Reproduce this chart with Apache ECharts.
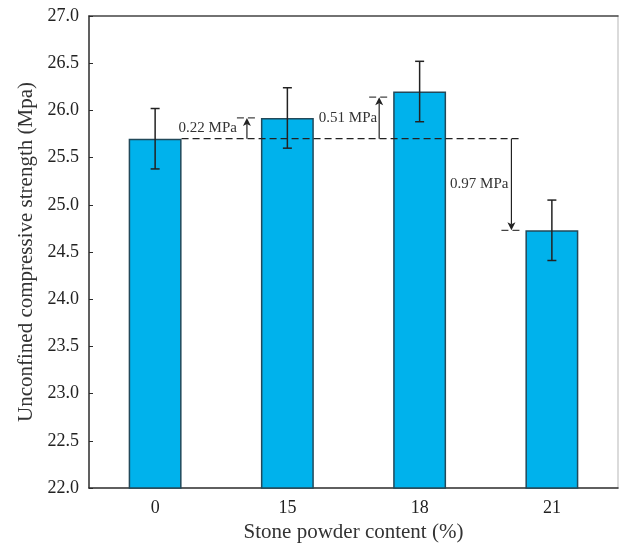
<!DOCTYPE html>
<html>
<head>
<meta charset="utf-8">
<script src="https://cdn.jsdelivr.net/npm/echarts@6/dist/echarts.min.js"></script>
<style>
  html, body { margin: 0; padding: 0; background: #fff; }
  #chart { width: 619px; height: 548px; }
</style>
</head>
<body>
<div id="chart"></div>
<script>
// Stone powder content vs unconfined compressive strength
const categories = ['0', '15', '18', '21'];
const strength = [25.70, 25.92, 26.20, 24.73];
const errors = [0.32, 0.32, 0.32, 0.32];

// difference annotations, measured against the 0% bar
const baseline = 25.70;
const annoTargets = [1, 2, 3];
const annoEnds = [25.92, 26.14, 24.73];
const annoLabels = ['0.22 MPa', '0.51 MPa', '0.97 MPa'];

const FONT = 'Liberation Serif';
const chart = echarts.init(document.getElementById('chart'));

function barHalf(api) {
    return api.size([1, 0])[0] * 0.4 / 2;
}

function arrowX(api, idx) {
    return api.coord([idx, 0])[0] - barHalf(api) - 14;
}

const labelGap = [10, 2, 3];

const option = {
    animation: false,
    grid: { left: 89, right: 1, top: 16, bottom: 60 },
    xAxis: [{
        type: 'category',
        data: categories,
        axisLine: { lineStyle: { color: '#2b2b2b', width: 1.5 } },
        axisTick: { inside: true, length: 5, lineStyle: { color: '#2b2b2b' } },
        axisLabel: { color: '#222', fontFamily: FONT, fontSize: 18, margin: 11 },
        name: 'Stone powder content (%)',
        nameLocation: 'middle',
        nameGap: 30,
        nameTextStyle: { color: '#333', fontFamily: FONT, fontSize: 21 }
    }, {
        type: 'category',
        position: 'top',
        data: categories,
        axisLine: { lineStyle: { color: '#444', width: 1.5 } },
        axisTick: { show: false },
        axisLabel: { show: false }
    }],
    yAxis: [{
        type: 'value',
        min: 22,
        max: 27,
        interval: 0.5,
        axisLine: { show: true, lineStyle: { color: '#2b2b2b', width: 1.5 } },
        axisTick: { show: true, inside: true, length: 4, lineStyle: { color: '#2b2b2b' } },
        splitLine: { show: false },
        axisLabel: {
            color: '#222', fontFamily: FONT, fontSize: 18, margin: 10,
            formatter: v => v.toFixed(1)
        },
        name: 'Unconfined compressive strength (Mpa)',
        nameLocation: 'middle',
        nameGap: 50,
        nameTextStyle: { color: '#333', fontFamily: FONT, fontSize: 21, padding: [0, 0, 0, 0] }
    }, {
        type: 'value',
        position: 'right',
        min: 22,
        max: 27,
        axisLine: { show: true, lineStyle: { color: '#cfcfcf', width: 1.5 } },
        axisTick: { show: false },
        axisLabel: { show: false },
        splitLine: { show: false }
    }],
    series: [
        {
            type: 'bar',
            data: strength,
            barWidth: '40%',
            itemStyle: { color: '#00b2ec', borderColor: '#22495a', borderWidth: 1.5 }
        },
        {
            // error bars
            type: 'custom',
            data: strength.map((v, i) => [i, v - errors[i], v + errors[i]]),
            z: 5,
            renderItem: function (params, api) {
                const lo = api.coord([api.value(0), api.value(1)]);
                const hi = api.coord([api.value(0), api.value(2)]);
                const cap = 4.5;
                const style = { stroke: '#222', lineWidth: 1.5 };
                return {
                    type: 'group',
                    children: [
                        { type: 'line', shape: { x1: lo[0], y1: lo[1], x2: hi[0], y2: hi[1] }, style },
                        { type: 'line', shape: { x1: lo[0] - cap, y1: lo[1], x2: lo[0] + cap, y2: lo[1] }, style },
                        { type: 'line', shape: { x1: hi[0] - cap, y1: hi[1], x2: hi[0] + cap, y2: hi[1] }, style }
                    ]
                };
            }
        },
        {
            // long dashed reference line at the 0% value
            type: 'custom',
            data: [[0, annoTargets[annoTargets.length - 1], baseline]],
            z: 4,
            renderItem: function (params, api) {
                const start = api.coord([api.value(0), api.value(2)]);
                const x1 = start[0] + barHalf(api);
                const x2 = arrowX(api, api.value(1)) + 10;
                return {
                    type: 'line',
                    shape: { x1: x1, y1: start[1], x2: x2, y2: start[1] },
                    style: { stroke: '#222', lineWidth: 1.2, lineDash: [7, 4] }
                };
            }
        },
        {
            // difference arrows and labels
            type: 'custom',
            data: annoTargets.map((t, i) => [t, baseline, annoEnds[i]]),
            z: 4,
            renderItem: function (params, api) {
                const i = params.dataIndex;
                const t = api.value(0);
                const x = arrowX(api, t);
                const y0 = api.coord([t, api.value(1)])[1];
                const y1 = api.coord([t, api.value(2)])[1];
                const dir = y1 < y0 ? 1 : -1; // 1: arrow points up
                const head = [
                    [x, y1],
                    [x - 4, y1 + dir * 8],
                    [x, y1 + dir * 6],
                    [x + 4, y1 + dir * 8]
                ];
                return {
                    type: 'group',
                    children: [
                        {
                            type: 'line',
                            shape: { x1: x, y1: y0, x2: x, y2: y1 + dir * 6 },
                            style: { stroke: '#222', lineWidth: 1.2 }
                        },
                        {
                            type: 'polygon',
                            shape: { points: head },
                            style: { fill: '#222' }
                        },
                        {
                            type: 'line',
                            shape: { x1: x - 10, y1: y1, x2: x + 10, y2: y1 },
                            style: { stroke: '#444', lineWidth: 1.2, lineDash: [7, 4] }
                        },
                        {
                            type: 'text',
                            x: x - labelGap[i],
                            y: (y0 + y1) / 2,
                            style: {
                                text: annoLabels[i],
                                fill: '#333',
                                font: '15px "' + FONT + '"',
                                align: 'right',
                                verticalAlign: 'middle'
                            }
                        }
                    ]
                };
            }
        }
    ]
};

chart.setOption(option);
window.addEventListener('resize', () => chart.resize());
</script>
</body>
</html>
